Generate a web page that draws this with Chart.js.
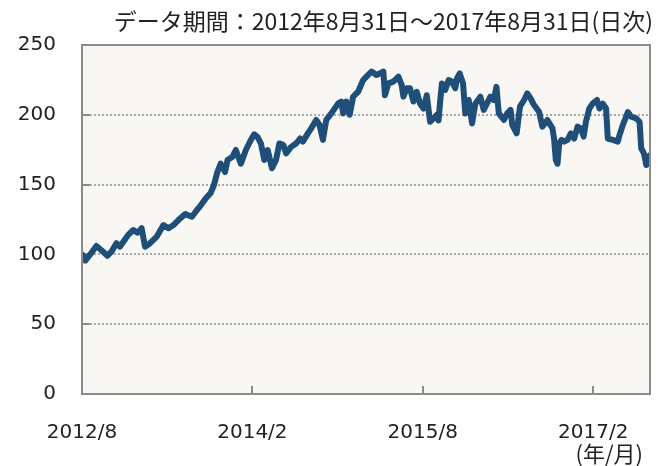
<!DOCTYPE html>
<html lang="ja">
<head>
<meta charset="utf-8">
<script src="https://cdn.jsdelivr.net/npm/chart.js@4.4.1/dist/chart.umd.min.js"></script>
<style>
  html, body { margin: 0; padding: 0; background: #ffffff; }
  #wrap { width: 660px; height: 466px; position: relative; }
</style>
</head>
<body>
<div id="wrap"><canvas id="priceChart" width="660" height="466"></canvas></div>
<script>
// months elapsed since 2012/8/31 and index level
const months = [0, 0.35, 0.82, 1.52, 2.05, 2.69, 3.11, 3.64, 4.0, 4.88, 5.42, 5.87, 6.3, 6.66, 7.19, 7.89,
  8.6, 9.13, 9.66, 10.19, 10.91, 11.61, 12.14, 12.53, 13.06, 13.59, 13.94, 14.3, 14.65, 15.11, 15.37,
  15.9, 16.25, 16.78, 17.31, 17.84, 18.19, 18.55, 18.9, 19.25, 19.61, 20.07, 20.49, 20.85, 21.27,
  21.56, 22.09, 22.62, 23.04, 23.33, 23.86, 24.21, 24.74, 25.09, 25.45, 25.8, 26.34, 27.05, 27.4,
  27.58, 27.93, 28.28, 28.64, 29.17, 29.7, 30.05, 30.58, 31.11, 31.46, 31.83, 32.0, 32.36, 32.89,
  33.42, 33.77, 33.95, 34.3, 34.65, 35.01, 35.36, 35.71, 36.07, 36.42, 36.77, 37.14, 37.49, 37.66,
  37.84, 38.02, 38.37, 38.73, 39.08, 39.43, 39.61, 39.9, 40.25, 40.49, 40.85, 41.2, 41.55, 42.08,
  42.44, 43.14, 43.5, 43.78, 44.03, 44.57, 44.92, 45.27, 45.45, 45.91, 46.27, 46.7, 47.04, 47.39,
  47.75, 48.28, 48.63, 49.16, 49.7, 49.88, 50.05, 50.23, 50.41, 50.65, 50.94, 51.29, 51.64, 52.0,
  52.35, 52.7, 52.99, 53.23, 53.59, 53.94, 54.4, 54.66, 55.01, 55.36, 55.54, 56.07, 56.6, 56.78,
  57.13, 57.48, 57.66, 58.01, 58.54, 58.9, 59.07, 59.36, 59.61, 59.86, 60.0];

const values = [100, 95.5, 99.6, 106, 103, 99, 102, 108, 105.5, 114, 117.5, 115.5, 118.7, 105.5, 108, 112.7,
  121, 118.7, 121, 124.6, 129, 127, 131.8, 135, 140, 144, 149.7, 159, 165, 159, 167.6,
  170, 174.8, 165, 174.8, 182, 186, 184, 179.5, 167.6, 174.8, 161.7, 167.6, 179.5, 178.4,
  172.4, 177, 179.5, 183, 180.8, 186.7, 190.3, 196.3, 192.7, 182, 196.3, 201, 208, 209.5,
  201, 209.5, 200, 213, 216.5, 224.9, 227.3, 231, 228.5, 229.6, 231, 214, 222.5, 223.8,
  227.3, 221.2, 213, 219, 219, 209.5, 216.5, 208, 204.5, 214, 195, 197.4, 200, 196,
  210, 222.5, 217.8, 224.9, 223.8, 219, 226, 229.6, 222.5, 201, 210.6, 193.8, 208, 213,
  203.5, 213, 210.6, 220, 201, 196.3, 201, 203.5, 192.7, 186.7, 206, 210.6, 215.3, 211.8,
  207, 202.2, 191.5, 196.3, 190.3, 182, 167.6, 165, 179.5, 182, 180.8, 182, 186.7, 183,
  191.5, 190.3, 184.4, 195, 204.5, 208, 210.6, 204.5, 208, 204.5, 183, 182, 180.8, 185.5,
  192.7, 198.6, 202, 198.6, 197.4, 195, 176, 172.4, 164, 170, 171];

const xTickMonths = [0, 18, 36, 54];
const xTickLabels = ["2012/8", "2014/2", "2015/8", "2017/2"];
const yTicks = [0, 50, 100, 150, 200, 250];

const titleText = "データ期間：2012年8月31日～2017年8月31日(日次)";
const unitText = "(年/月)";

const TICK_FONT = "'DejaVu Sans', 'Noto Sans CJK JP', sans-serif";
const JP_FONT = "'Noto Sans CJK JP', sans-serif";
const lineColor = "#1f4e79";
const frameColor = "#8a8a8a";

// plot background, dotted grid, frame, inner tick marks and the free texts
const framePlugin = {
  id: "frame",
  beforeDraw(chart) {
    const { ctx, chartArea: a } = chart;
    ctx.save();
    ctx.fillStyle = "#f8f7f3";
    ctx.fillRect(a.left, a.top, a.right - a.left, a.bottom - a.top);
    ctx.restore();
  },
  beforeDatasetsDraw(chart) {
    const { ctx, chartArea: a, scales } = chart;
    ctx.save();
    // dotted horizontal grid
    ctx.strokeStyle = "#a9a9a9";
    ctx.lineWidth = 2;
    ctx.setLineDash([2, 2]);
    ctx.beginPath();
    yTicks.forEach((v) => {
      if (v === 0 || v === 250) return;
      const y = Math.round(scales.y.getPixelForValue(v));
      ctx.moveTo(a.left + 8, y);
      ctx.lineTo(a.right, y);
    });
    ctx.stroke();

    // short inner ticks
    ctx.setLineDash([]);
    ctx.strokeStyle = frameColor;
    ctx.lineWidth = 2;
    ctx.beginPath();
    yTicks.forEach((v) => {
      if (v === 0 || v === 250) return;
      const y = Math.round(scales.y.getPixelForValue(v));
      ctx.moveTo(a.left, y);
      ctx.lineTo(a.left + 8, y);
    });
    xTickMonths.forEach((m) => {
      if (m === 0) return;
      const x = Math.round(scales.x.getPixelForValue(m));
      ctx.moveTo(x, a.bottom);
      ctx.lineTo(x, a.bottom - 8);
    });
    ctx.stroke();
    ctx.restore();
  },
  afterDraw(chart) {
    const { ctx, chartArea: a } = chart;
    ctx.save();
    ctx.strokeStyle = frameColor;
    ctx.lineWidth = 2;
    ctx.strokeRect(a.left, a.top, a.right - a.left, a.bottom - a.top);

    ctx.fillStyle = "#222222";
    ctx.font = "23px " + JP_FONT;
    ctx.textAlign = "right";
    ctx.textBaseline = "middle";
    ctx.fillText(titleText, 653, 21);
    ctx.font = "22px " + JP_FONT;
    ctx.fillText(unitText, 643, 454);
    ctx.restore();
  },
};

new Chart(document.getElementById("priceChart"), {
  type: "line",
  data: {
    datasets: [
      {
        data: months.map((m, i) => ({ x: m, y: values[i] })),
        borderColor: lineColor,
        borderWidth: 6,
        borderJoinStyle: "round",
        borderCapStyle: "round",
        pointRadius: 0,
        tension: 0,
        fill: false,
      },
    ],
  },
  options: {
    responsive: false,
    animation: false,
    layout: { padding: { top: 45, right: 10, left: 0, bottom: 0 } },
    plugins: { legend: { display: false }, tooltip: { enabled: false } },
    scales: {
      x: {
        type: "linear",
        min: 0,
        max: 60,
        afterFit: (s) => { s.height = 72; },
        afterBuildTicks: (s) => { s.ticks = xTickMonths.map((v) => ({ value: v })); },
        grid: { display: false, drawTicks: false },
        border: { display: false },
        ticks: {
          padding: 27,
          maxRotation: 0,
          color: "#222222",
          font: { size: 20, family: TICK_FONT },
          callback: (v) => xTickLabels[xTickMonths.indexOf(v)],
        },
      },
      y: {
        min: 0,
        max: 250,
        afterFit: (s) => { s.width = 82; },
        afterBuildTicks: (s) => { s.ticks = yTicks.map((v) => ({ value: v })); },
        grid: { display: false, drawTicks: false },
        border: { display: false },
        ticks: {
          padding: 26,
          color: "#222222",
          font: { size: 20, family: TICK_FONT },
        },
      },
    },
  },
  plugins: [framePlugin],
});
</script>
</body>
</html>
